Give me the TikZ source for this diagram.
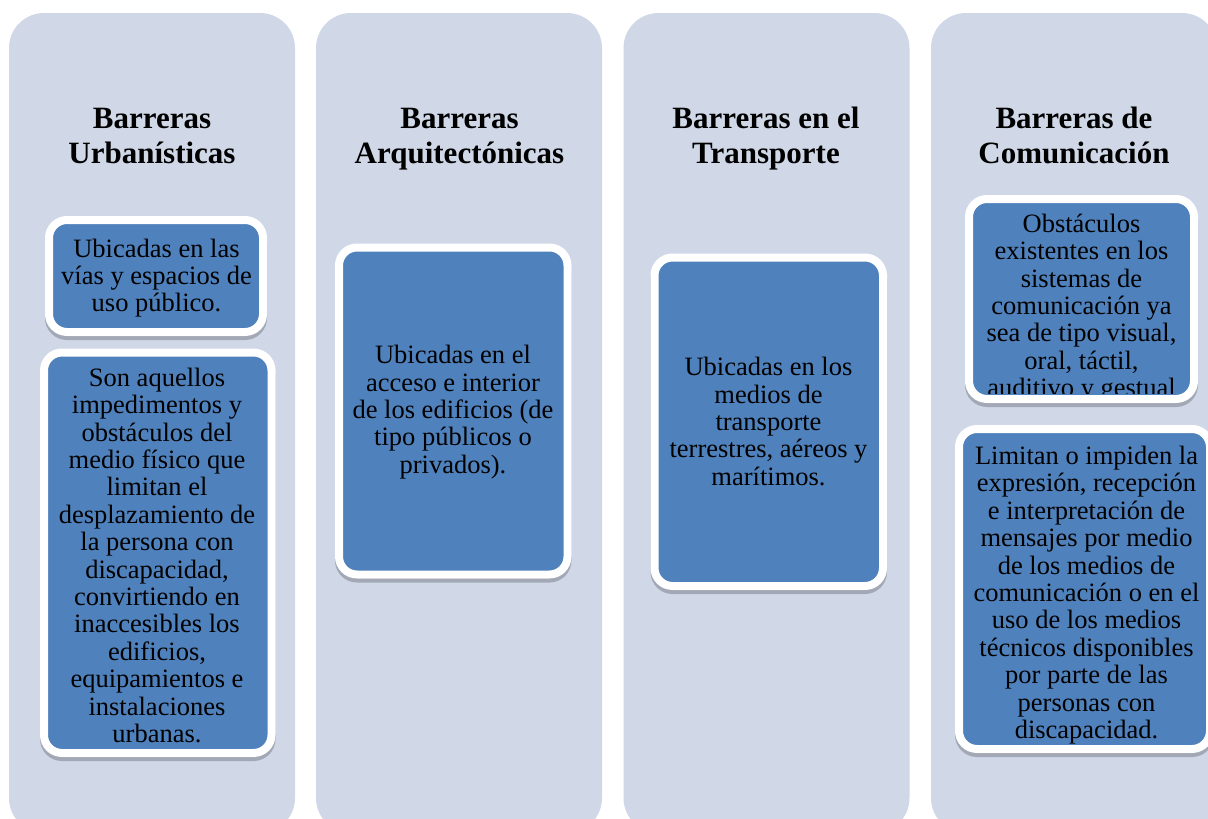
\documentclass[tikz,border=0pt]{standalone}
\usepackage{fontspec}
\setmainfont{Liberation Serif}
\usetikzlibrary{shadows}
\definecolor{colbg}{RGB}{208,216,232}
\definecolor{cardblue}{RGB}{79,129,189}
\begin{document}
\begin{tikzpicture}[x=1pt,y=-1pt,
  col/.style={fill=colbg, draw=none, rounded corners=35pt, minimum width=286pt, minimum height=820pt, inner sep=0pt},
  ttl/.style={align=center, inner sep=0pt, font=\fontsize{31}{35}\selectfont\bfseries},
  card/.style={fill=cardblue, draw=white, line width=8pt, rounded corners=18pt, inner sep=0pt,
    drop shadow={shadow xshift=0pt, shadow yshift=-4pt, opacity=0.22, fill=black, draw=black, line width=8pt}},
  body/.style={align=center, inner sep=0pt, text=black, font=\fontsize{26.5}{27.4}\selectfont}]
\useasboundingbox (0,0) rectangle (1208,819);
\clip (0,0) rectangle (1208,819);
\fill[white] (0,0) rectangle (1208,819);
% columns
\node[col] (col1) at (152,423) {};
\node[col] (col2) at (459,423) {};
\node[col] (col3) at (766.5,423) {};
\node[col] (col4) at (1074,423) {};
% titles
\node[ttl] (h1) at (152,138.5) {\strut Barreras\\Urbanísticas\strut};
\node[ttl] (h2) at (459.5,138.5) {\strut Barreras\\Arquitectónicas\strut};
\node[ttl] (h3) at (766,138.5) {\strut Barreras en el\\Transporte\strut};
\node[ttl] (h4) at (1074,138.5) {\strut Barreras de\\Comunicación\strut};
% cards
\node[card, minimum width=214pt, minimum height=112pt] (b1a) at (156,276) {};
\node[card, minimum width=227.5pt, minimum height=400.5pt] (b1b) at (157.75,552.75) {};
\node[card, minimum width=228.5pt, minimum height=327pt] (b2) at (453.25,411) {};
\node[card, minimum width=228.5pt, minimum height=328.5pt] (b3) at (768.75,421.75) {};
\node[card, minimum width=225pt, minimum height=200pt] (b4a) at (1081.5,299) {};
\node[card, minimum width=251pt, minimum height=320pt] (b4b) at (1084.5,589) {};
% texts
\node[body] (t1a) at (156.5,279) {\strut Ubicadas en las\\vías y espacios de\\uso público.\strut};
\node[body] (t1b) at (157,559) {\strut Son aquellos\\impedimentos y\\obstáculos del\\medio físico que\\limitan el\\desplazamiento de\\la persona con\\discapacidad,\\convirtiendo en\\inaccesibles los\\edificios,\\equipamientos e\\instalaciones\\urbanas.\strut};
\node[body] (t2) at (453,413) {\strut Ubicadas en el\\acceso e interior\\de los edificios (de\\tipo públicos o\\privados).\strut};
\node[body] (t3) at (768.5,425) {\strut Ubicadas en los\\medios de\\transporte\\terrestres, aéreos y\\marítimos.\strut};
\begin{scope}
  \clip[rounded corners=14pt] (973,203) rectangle (1190,393);
  \node[body] (t4a) at (1081.5,309) {\strut Obstáculos\\existentes en los\\sistemas de\\comunicación ya\\sea de tipo visual,\\oral, táctil,\\auditivo y gestual\strut};
\end{scope}
\begin{scope}
  \clip[rounded corners=14pt] (963,433) rectangle (1206,745);
  \node[body] (t4b) at (1086.5,596) {\strut Limitan o impiden la\\expresión, recepción\\e interpretación de\\mensajes por medio\\de los medios de\\comunicación o en el\\uso de los medios\\técnicos disponibles\\por parte de las\\personas con\\discapacidad.\strut};
\end{scope}
\end{tikzpicture}
\end{document}
